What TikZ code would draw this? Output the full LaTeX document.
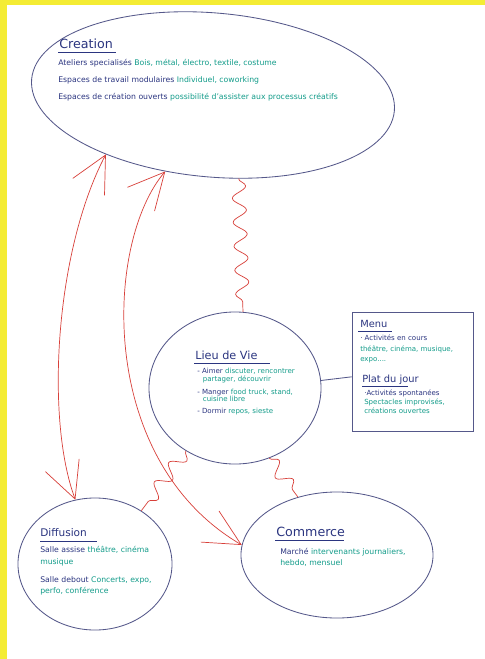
\documentclass[tikz,border=0pt]{standalone}
\usepackage{fontspec}
\setmainfont{DejaVu Sans}
\usepackage{xcolor}
\usepackage{tikz}
\usetikzlibrary{shapes.geometric,decorations.pathmorphing,arrows.meta,bending}
\definecolor{inkblue}{HTML}{2B3580}
\definecolor{inkgreen}{HTML}{139C8A}
\definecolor{inkline}{HTML}{55588A}
\definecolor{inkred}{HTML}{D8403A}
\definecolor{paperyellow}{HTML}{F4EC34}
\newcommand{\grn}[1]{\textcolor{inkgreen}{#1}}

\begin{document}
\begin{tikzpicture}[x=0.025cm,y=-0.025cm,
blob/.style={draw=inkline,ellipse,inner sep=0pt,line width=0.6pt},
ttl/.style={inkblue,font=\fontsize{8}{9}\selectfont,inner sep=0pt,anchor=base west},
txt/.style={inkblue,font=\fontsize{5}{6}\selectfont,align=left,inner sep=0pt,anchor=north west},
wig/.style={inkred,line width=0.5pt,decorate,decoration={snake,amplitude=1.7mm,segment length=6mm}},
link/.style={inkred,line width=0.5pt,{Straight Barb[length=9mm,width=9mm]}-{Straight Barb[length=9mm,width=9mm]}}]
\fill[paperyellow](0,0)rectangle(485,659);
\fill[white](7,5)rectangle(485,659);
\useasboundingbox(0,0)rectangle(485,659);
\node[blob,minimum width=9.1cm,minimum height=4.1cm,rotate=-5](crea)at(213,95){};
\node[blob,minimum width=4.3cm,minimum height=3.8cm](lieu)at(235,388){};
\node[draw=inkline,line width=0.6pt,minimum width=3.025cm,minimum height=2.975cm,inner sep=0pt](menu)at(412.5,371.5){};
\node[blob,minimum width=3.85cm,minimum height=3.3cm](diff)at(95,564){};
\node[blob,minimum width=4.8cm,minimum height=3.15cm](comm)at(337,555){};
\draw[inkline,line width=0.6pt](lieu.5)--(menu.185);
\draw[wig](crea.-68)--(lieu.84);
\draw[wig](lieu.-128)--(diff.49);
\draw[wig](lieu.-64)--(comm.124);
\draw[link](crea.-146)..controls(55,250)and(45,420)..(diff.107);
\draw[link](crea.-117)..controls(105,240)and(95,460)..(comm.174);
\node[ttl,font=\fontsize{9}{10}\selectfont](creattl)at(59,48){Creation};
\draw[inkblue](58,52)--(116,52);
\node[txt,font=\fontsize{5.5}{12}\selectfont](creabody)at(58,59){Ateliers specialisés \grn{Bois, métal, électro, textile, costume}\\
Espaces de travail modulaires \grn{Individuel, coworking}\\
Espaces de création ouverts \grn{possibilité d'assister aux processus créatifs}};
\node[ttl](lieuttl)at(195,359){Lieu de Vie};
\draw[inkblue](194,363)--(270,363);
\node[txt,font=\fontsize{5}{5.5}\selectfont](lieubody)at(197,368){- Aimer \grn{discuter, rencontrer}\\
\hspace{4pt}\grn{partager, découvrir}\\[3.5pt]
- Manger \grn{food truck, stand,}\\
\hspace{4pt}\grn{cuisine libre}\\[2.5pt]
- Dormir \grn{repos, sieste}};
\node[ttl,font=\fontsize{7}{8}\selectfont](menuttl)at(360,327){Menu};
\draw[inkblue](358,331)--(392,331);
\node[txt,font=\fontsize{5}{7.4}\selectfont](menubody)at(360,335){· Activités en cours\\
\grn{théâtre, cinéma, musique,}\\
\grn{expo....}};
\node[ttl,font=\fontsize{7}{8}\selectfont](platttl)at(362,382){Plat du jour};
\draw[inkblue](362,386)--(408,386);
\node[txt,font=\fontsize{5}{6.3}\selectfont](platbody)at(364,390){·Activités spontanées\\
\grn{Spectacles improvisés,}\\
\grn{créations ouvertes}};
\node[ttl,font=\fontsize{7.5}{8}\selectfont](diffttl)at(40,536){Diffusion};
\draw[inkblue](40,541)--(97,541);
\node[txt,font=\fontsize{5.5}{8.5}\selectfont](diffbody)at(40,546){Salle assise \grn{théâtre, cinéma}\\
\grn{musique}\\[4pt]
Salle debout \grn{Concerts, expo,}\\
\grn{perfo, conférence}};
\node[ttl,font=\fontsize{9}{10}\selectfont](commttl)at(276,536){Commerce};
\draw[inkblue](275,540)--(344,540);
\node[txt,font=\fontsize{5.5}{8}\selectfont](commbody)at(280,548){Marché \grn{intervenants journaliers,}\\
\grn{hebdo, mensuel}};
\end{tikzpicture}
\end{document}
